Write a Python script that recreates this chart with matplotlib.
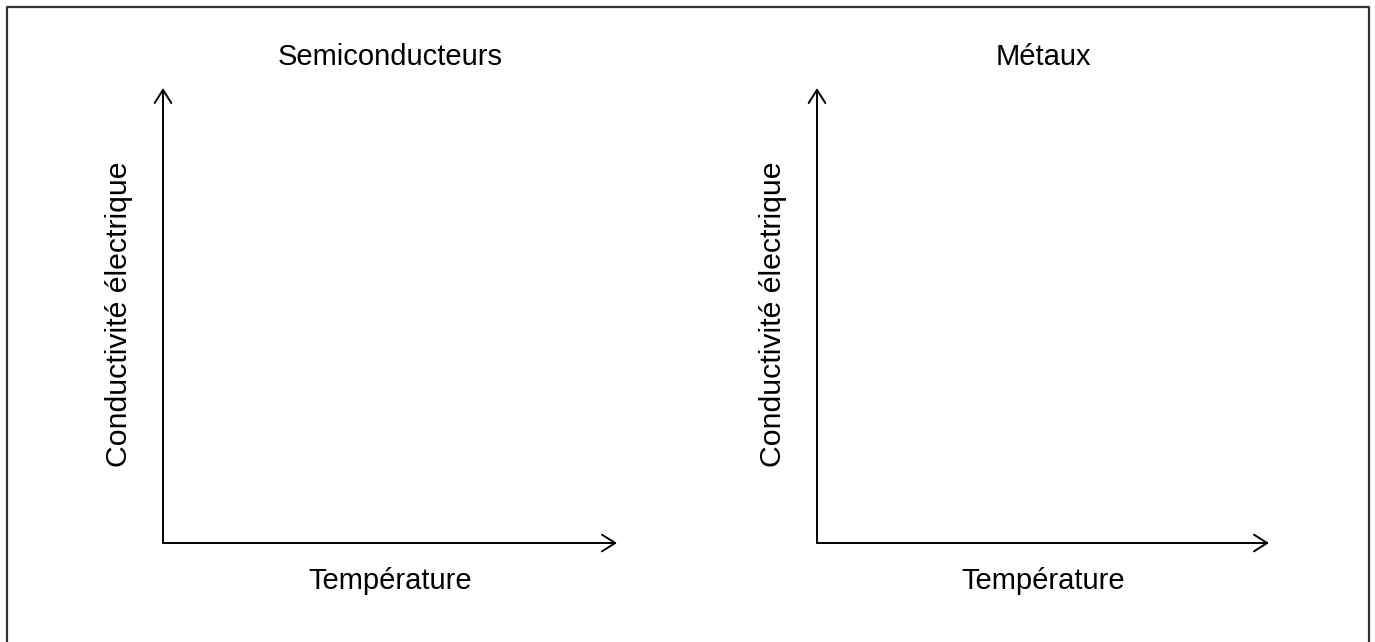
import matplotlib
matplotlib.use("Agg")
import matplotlib.pyplot as plt
from matplotlib.lines import Line2D

plt.rcParams['font.family'] = ['Liberation Sans', 'DejaVu Sans']

titles = ["Semiconducteurs", "Métaux"]
xlabels = ["Température", "Température"]
ylabels = ["Conductivité électrique", "Conductivité électrique"]

W, H = 1375, 642
fig = plt.figure(figsize=(W / 100, H / 100), dpi=100)

# panel positions in pixels: (left, bottom_y, right, top_y)
panels = [(163, 543, 617, 88), (817, 543, 1269, 88)]

for (l, b, r, t), title, xl, yl in zip(panels, titles, xlabels, ylabels):
    ax = fig.add_axes([l / W, (H - b) / H, (r - l) / W, (b - t) / H])
    ax.set_xlim(0, 1)
    ax.set_ylim(0, 1)
    for s in ax.spines.values():
        s.set_visible(False)
    ax.set_xticks([])
    ax.set_yticks([])
    ax.patch.set_alpha(0)
    arrow = dict(arrowstyle="->,head_length=0.95,head_width=0.6", color="black", lw=1.4,
                 shrinkA=0, shrinkB=0)
    ax.annotate("", xy=(1, 0), xytext=(0, 0), xycoords="axes fraction",
                textcoords="axes fraction", arrowprops=arrow)
    ax.annotate("", xy=(0, 1), xytext=(0, 0), xycoords="axes fraction",
                textcoords="axes fraction", arrowprops=arrow)
    cx = (l + r) / 2
    fig.text(cx / W, (H - 57) / H, title, ha="center", va="center", fontsize=21)
    fig.text(cx / W, (H - 581) / H, xl, ha="center", va="center", fontsize=21)
    fig.text((l - 44) / W, (H - 314) / H, yl, ha="center", va="center",
             rotation=90, fontsize=21.8)

# outer frame (left, top, right)
fx = [6.5 / W, 6.5 / W, 1368.5 / W, 1368.5 / W]
fy = [0, (H - 6.5) / H, (H - 6.5) / H, 0]
fig.add_artist(Line2D(fx, fy, transform=fig.transFigure, color="#333333", lw=1.6))

fig.savefig("out.png", dpi=100)
